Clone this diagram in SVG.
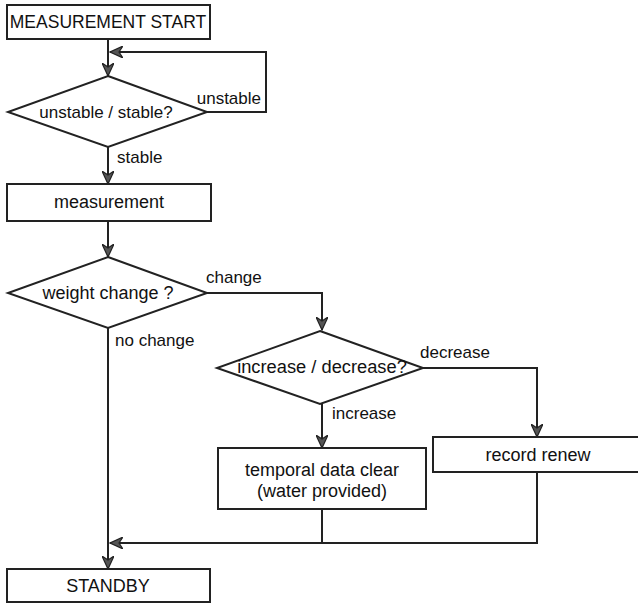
<svg xmlns="http://www.w3.org/2000/svg" width="638" height="606" viewBox="0 0 638 606">
<style>
.box{fill:#fff;stroke:#222;stroke-width:2}
.t{font-family:"Liberation Sans",Arial,sans-serif;font-size:17px;fill:#111}
.n{font-size:18px}
.c{text-anchor:middle}
.ln{fill:none;stroke:#222;stroke-width:2}
</style>
<defs>
<marker id="ah" markerWidth="14" markerHeight="12" refX="13" refY="6" orient="auto" markerUnits="userSpaceOnUse">
<path d="M0,0 L13,6 L0,12 L4,6 z" fill="#555" stroke="#222" stroke-width="1.2"/>
</marker>
</defs>
<rect width="638" height="606" fill="#fff"/>
<g id="connectors">
<path class="ln" d="M108,40 V76" marker-end="url(#ah)"/>
<path class="ln" d="M207,112 H266 V52 H110" marker-end="url(#ah)"/>
<path class="ln" d="M108,147 V184" marker-end="url(#ah)"/>
<path class="ln" d="M108,221 V257" marker-end="url(#ah)"/>
<path class="ln" d="M207,293 H322 V330" marker-end="url(#ah)"/>
<path class="ln" d="M108,328 V569" marker-end="url(#ah)"/>
<path class="ln" d="M423,368 H537 V437" marker-end="url(#ah)"/>
<path class="ln" d="M322,404 V448" marker-end="url(#ah)"/>
<path class="ln" d="M322,509 V543"/>
<path class="ln" d="M537,472 V543 H110" marker-end="url(#ah)"/>
<text class="t" x="261" y="104" text-anchor="end">unstable</text>
<text class="t" x="117" y="163">stable</text>
<text class="t" x="206" y="283">change</text>
<text class="t" x="115" y="346">no change</text>
<text class="t" x="420" y="358">decrease</text>
<text class="t" x="332" y="419">increase</text>
</g>
<g id="start">
<rect class="box" x="7" y="5" width="203" height="34"/>
<text class="t c" x="108" y="28" style="font-size:17.5px">MEASUREMENT START</text>
</g>
<g id="stable-check">
<polygon class="box" points="108,76 207,112 108,147 8,112"/>
<text class="t c" x="106" y="118">unstable / stable?</text>
</g>
<g id="measurement">
<rect class="box" x="7" y="184" width="204" height="37"/>
<text class="t n c" x="109" y="208">measurement</text>
</g>
<g id="weight-change">
<polygon class="box" points="108,257 207,293 108,328 8,293"/>
<text class="t n c" x="108" y="299">weight change ?</text>
</g>
<g id="inc-dec">
<polygon class="box" points="320,331 423,368 320,404 217,368"/>
<text class="t c" x="322" y="373" style="font-size:18.3px">increase / decrease?</text>
</g>
<g id="temporal-clear">
<rect class="box" x="218" y="448" width="208" height="61"/>
<text class="t n c" x="322" y="476">temporal data clear</text>
<text class="t n c" x="322" y="497">(water provided)</text>
</g>
<g id="record-renew">
<rect class="box" x="433" y="437" width="206" height="35"/>
<text class="t n c" x="538" y="461">record renew</text>
</g>
<g id="standby">
<rect class="box" x="7" y="569" width="203" height="33"/>
<text class="t n c" x="108" y="592">STANDBY</text>
</g>
</svg>
